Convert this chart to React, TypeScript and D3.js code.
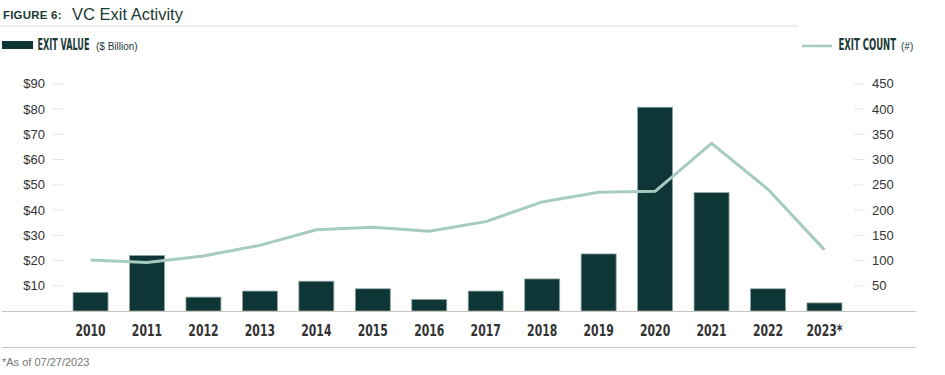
import React from "react";
import * as d3 from "d3";

const years = ["2010","2011","2012","2013","2014","2015","2016","2017","2018","2019","2020","2021","2022","2023*"];
const exitValue = [7.4, 22.0, 5.5, 7.9, 11.8, 8.8, 4.6, 7.9, 12.7, 22.6, 80.7, 46.9, 8.8, 3.2];
const exitCount = [101, 96, 109, 130, 161, 166, 158, 177, 216, 235, 237, 332, 241, 121];
const leftTicks = [10, 20, 30, 40, 50, 60, 70, 80, 90];
const rightTicks = [50, 100, 150, 200, 250, 300, 350, 400, 450];

const W = 945, H = 375;
const BAR = "#0f3636";
const LINE = "#a6cbc2";
const TXT = "#333333";
const HEAD = "#1b3a36";
const COND = "'Liberation Sans Narrow','DejaVu Sans Condensed',sans-serif";
const SANS = "'Liberation Sans','Inter',Arial,sans-serif";

function Cond({ x, y, sx, size, anchor, fill, children }: any) {
  return (
    <text transform={`translate(${x},${y}) scale(${sx},1)`} textAnchor={anchor || "start"}
      fontFamily={COND} fontWeight={700} fontSize={size} fill={fill}>{children}</text>
  );
}

export default function App() {
  const x = d3.scaleBand<string>().domain(years).range([62.3, 852.7]).paddingInner(0.38).paddingOuter(0.19);
  const yL = d3.scaleLinear().domain([0, 90]).range([311, 83.75]);
  const yR = d3.scaleLinear().domain([0, 450]).range([311, 83.75]);
  const cx = (d: string) => (x(d) as number) + x.bandwidth() / 2;
  const line = d3.line<number>().x((_, i) => cx(years[i])).y(d => yR(d));

  return (
    <svg width={W} height={H} style={{ position: "absolute", left: 0, top: 0, background: "#fff" }}>
      <text x={3} y={19} fontFamily={SANS} fontWeight={700} fontSize={11.5} fill={HEAD} letterSpacing={0.2}>FIGURE 6:</text>
      <text x={72} y={19.5} fontFamily={SANS} fontSize={16.5} fill={HEAD}>VC Exit Activity</text>
      <line x1={0} x2={798} y1={26} y2={26} stroke="#e2ddd3" strokeWidth={1.2} />

      <rect x={2} y={41} width={31} height={8} fill={BAR} />
      <Cond x={37.5} y={50} sx={0.6} size={15} fill={HEAD}>EXIT VALUE</Cond>
      <text x={96} y={50} fontFamily={SANS} fontSize={10} fill={HEAD}>($ Billion)</text>
      <line x1={802} x2={832} y1={46} y2={46} stroke={LINE} strokeWidth={2.5} />
      <Cond x={838.5} y={50} sx={0.63} size={15} fill={HEAD}>EXIT COUNT</Cond>
      <text x={901} y={50} fontFamily={SANS} fontSize={10} fill={HEAD}>(#)</text>

      {leftTicks.map(t => (
        <g key={"l" + t}>
          <line x1={53} x2={63} y1={yL(t)} y2={yL(t)} stroke="#e6e4dc" strokeWidth={1} />
          <text x={45} y={yL(t)} dy="0.35em" textAnchor="end" fontFamily={SANS} fontSize={13} fill={TXT}>${t}</text>
        </g>
      ))}
      {rightTicks.map(t => (
        <g key={"r" + t}>
          <line x1={854} x2={863} y1={yR(t)} y2={yR(t)} stroke="#e6e4dc" strokeWidth={1} />
          <text x={872} y={yR(t)} dy="0.35em" textAnchor="start" fontFamily={SANS} fontSize={13} fill={TXT}>{t}</text>
        </g>
      ))}

      {exitValue.map((v, i) => (
        <rect key={years[i]} x={x(years[i])} y={yL(v)} width={x.bandwidth()} height={yL(0) - yL(v)}
          fill={BAR} stroke="#8fa8a4" strokeWidth={0.8} />
      ))}
      <line x1={2} x2={916} y1={311.5} y2={311.5} stroke="#cbc4bb" strokeWidth={1.2} />
      <path d={line(exitCount) || ""} fill="none" stroke={LINE} strokeWidth={3} strokeLinejoin="round" />

      {years.map(y => (
        <Cond key={"t" + y} x={cx(y)} y={336} sx={0.78} size={15.5} anchor="middle" fill={TXT}>{y}</Cond>
      ))}
      <line x1={2} x2={916} y1={347.5} y2={347.5} stroke="#cbc4bb" strokeWidth={1.2} />
      <text x={2} y={366} fontFamily={SANS} fontSize={11} fill="#777">*As of 07/27/2023</text>
    </svg>
  );
}
